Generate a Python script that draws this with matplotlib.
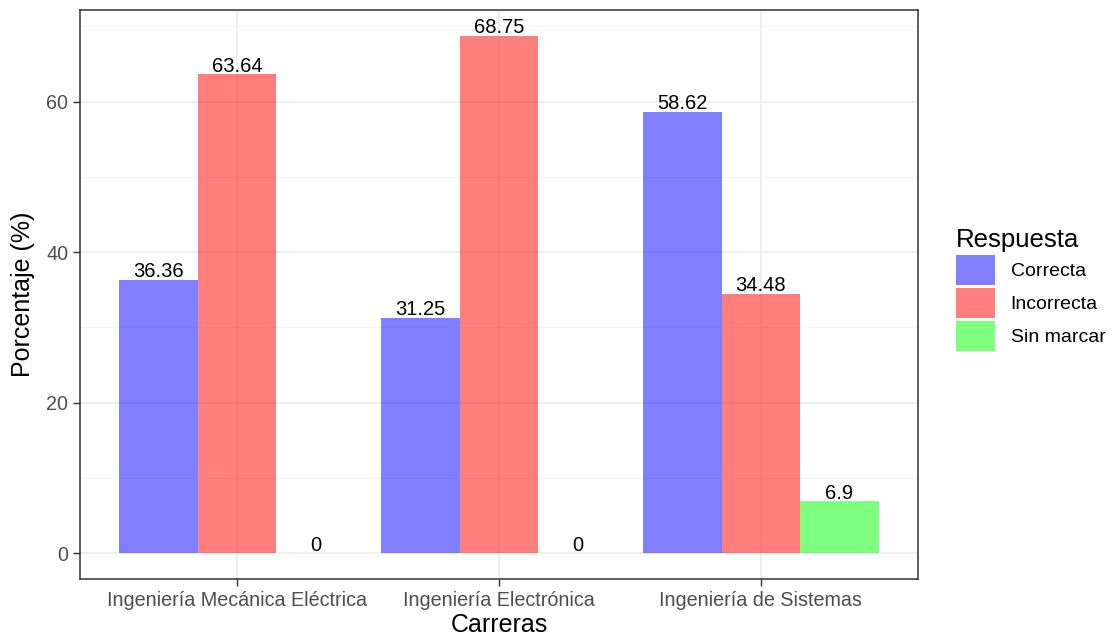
import numpy as np
import matplotlib.pyplot as plt
from matplotlib.patches import Patch
from matplotlib.ticker import MultipleLocator

plt.rcParams['font.family'] = ['Liberation Sans', 'DejaVu Sans']

# datos
carreras = ['Ingeniería Mecánica Eléctrica', 'Ingeniería Electrónica', 'Ingeniería de Sistemas']
respuestas = ['Correcta', 'Incorrecta', 'Sin marcar']
correcta = [36.36, 31.25, 58.62]
incorrecta = [63.64, 68.75, 34.48]
sin_marcar = [0, 0, 6.9]

colores = ['blue', 'red', 'lime']
series = [correcta, incorrecta, sin_marcar]

fig = plt.figure(figsize=(11.2, 6.43), dpi=100)
ax = fig.add_axes([80 / 1120, 1 - 579 / 643, 838 / 1120, 569 / 643])

x = np.arange(1, len(carreras) + 1)
w = 0.3
for i, (vals, col) in enumerate(zip(series, colores)):
    pos = x + (i - 1) * w
    ax.bar(pos, vals, width=w, color=col, alpha=0.5, linewidth=0, zorder=2)
    for p, v in zip(pos, vals):
        ax.annotate(f'{v:g}', xy=(p, v), xytext=(0, -1), textcoords='offset points',
                    ha='center', va='bottom', fontsize=14.5, color='black', zorder=3)

ymax = max(max(s) for s in series)
ax.set_ylim(-0.05 * ymax, 1.05 * ymax)
ax.set_xlim(0.4, 3.6)
ax.set_xticks(x)
ax.set_xticklabels(carreras)
ax.yaxis.set_major_locator(MultipleLocator(20))
ax.yaxis.set_minor_locator(MultipleLocator(10))

ax.grid(which='major', color='#EBEBEB', linewidth=1.1, zorder=0)
ax.grid(which='minor', axis='y', color='#F4F4F4', linewidth=0.6, zorder=0)
ax.set_axisbelow(True)
ax.tick_params(which='major', colors='#333333', labelcolor='#4D4D4D', labelsize=14.2, length=5, width=1)
ax.tick_params(which='minor', length=0)
for s in ax.spines.values():
    s.set_color('#333333')
    s.set_linewidth(1.1)

ax.set_xlabel('Carreras', fontsize=18, labelpad=2)
ax.set_ylabel('Porcentaje (%)', fontsize=18, labelpad=8)

handles = [Patch(facecolor=c, alpha=0.5, edgecolor='none') for c in colores]
leg = fig.legend(handles, respuestas, loc='center left', bbox_to_anchor=(0.838, 0.55),
                 frameon=False, fontsize=14, title='Respuesta', title_fontsize=18.5,
                 handlelength=2.0, handleheight=2.0, labelspacing=0.15, handletextpad=0.8,
                 alignment='left')

fig.savefig('out.png', dpi=100)
